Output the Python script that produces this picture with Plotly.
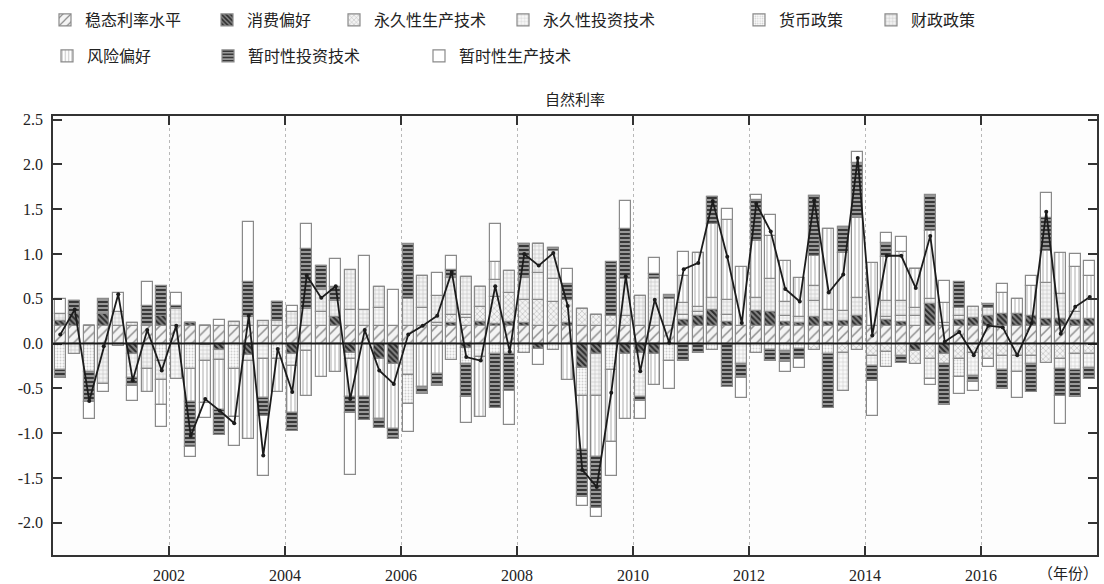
import plotly.graph_objects as go

years = list(range(2000, 2018))
quarters = [f"{y}Q{q}" for y in years for q in range(1, 5)]
x_pos = [y + (q - 0.5) / 4 for y in years for q in range(1, 5)]

tick_years = [2002, 2004, 2006, 2008, 2010, 2012, 2014, 2016]
y_ticks = [-2.0, -1.5, -1.0, -0.5, 0.0, 0.5, 1.0, 1.5, 2.0, 2.5]

steady = [0.2, 0.2, 0.2, 0.2, 0.2, 0.2, 0.2, 0.2,
          0.2, 0.2, 0.2, 0.2, 0.2, 0.2, 0.2, 0.2,
          0.2, 0.2, 0.2, 0.2, 0.2, 0.2, 0.2, 0.2,
          0.2, 0.2, 0.2, 0.2, 0.2, 0.2, 0.2, 0.2,
          0.2, 0.2, 0.2, 0.2, 0.2, 0.2, 0.2, 0.2,
          0.2, 0.2, 0.2, 0.2, 0.2, 0.2, 0.2, 0.2,
          0.2, 0.2, 0.2, 0.2, 0.2, 0.2, 0.2, 0.2,
          0.2, 0.2, 0.2, 0.2, 0.2, 0.2, 0.2, 0.2,
          0.2, 0.2, 0.2, 0.2, 0.2, 0.2, 0.2, 0.2]

consumption = [0.05, 0.13, 0, 0.13, 0, -0.12, 0, 0.11, 0, 0.03, -0.02, -0.07, 0, -0.13, 0,
               0, -0.12, 0, 0, 0.1, -0.1, 0, -0.17, -0.23, 0, 0, 0, 0.03, -0.05,
               0.04, 0.02, 0.04, 0.03, -0.06, 0, 0.03, -0.27, -0.12, 0, -0.12, -0.1, -0.12, 0,
               0.06, 0.11, 0.18, 0.04, 0, 0.16, 0.15, 0.04, 0.03, 0.1, 0.04, 0.05, 0.11, 0, 0.06,
               0.04, -0.08, 0.24, -0.12, 0.06, 0.09, 0.11, 0.13, 0.13, 0.11, 0.07, 0.07, 0.06, 0.07]

perm_prod = [0, 0, 0, 0, 0, 0, 0, 0, 0, 0, 0, 0, 0, 0, 0,
             0, 0, 0, 0, 0, 0, 0, 0, 0, 0, 0, 0.03, 0.09, 0.08,
             0.17, 0.3, 0.33, 0.26, 0.29, 0.26, 0.26, 0.19, 0.12, 0.11, 0.11, 0, 0, 0,
             0, 0, 0, 0, 0, 0, 0, 0, 0, -0.07, 0, -0.1, -0.07, -0.14, -0.09,
             -0.14, -0.15, -0.17, -0.11, -0.17, -0.1, -0.17, -0.14, -0.14, -0.14, -0.22, -0.17, -0.12, -0.12]

perm_inv = [0, 0, 0, 0, 0, -0.26, 0, 0, -0.39, 0, 0, 0, 0, -0.06, -0.17,
            0, -0.13, -0.08, 0.15, 0, 0.17, 0, 0.2, 0, -0.35, 0.2, 0, 0, 0.04,
            -0.15, 0, 0, 0, 0.3, 0.26, 0, 0, 0, 0, 0, -0.5, 0, 0,
            0.06, 0.04, 0, 0.08, -0.23, 0, 0, 0.07, 0, 0.17, 0, -0.43, 0, -0.11, 0.04,
            0.07, 0.11, -0.22, 0, 0.05, -0.26, 0, -0.15, -0.18, -0.09, 0, -0.11, -0.17, -0.15]

monetary = [-0.3, 0, -0.32, 0, -0.03, 0, 0, -0.2, 0, -0.28, 0, 0, -0.28, 0, 0,
            -0.17, 0, 0, 0, 0, -0.07, 0, 0, 0, -0.32, 0, 0, -0.18, -0.18,
            0, -0.12, -0.12, -0.11, 0, -0.07, 0, -0.31, 0, -0.3, 0, 0, 0, -0.19,
            0, 0, -0.07, 0, 0, -0.1, -0.07, -0.08, -0.06, 0, -0.12, 0, 0, 0, -0.17,
            0, 0, 0, 0, -0.2, 0, 0, 0, 0, 0, 0, 0, 0, 0]

fiscal = [0.08, -0.12, 0, -0.45, 0.15, 0.03, -0.28, -0.21, 0.19, 0, -0.18, -0.11, 0.04, 0.1, 0.05,
          0.05, 0.15, 0.19, 0.25, 0.17, 0.45, 0.18, 0.23, 0, 0.3, 0.35, 0.3, 0.41, 0.42,
          0.22, 0.19, 0.24, 0.24, 0.32, 0.31, 0, 0, -0.46, 0, 0.41, 0.33, 0.52, 0.3,
          0.13, 0.06, 0.13, 0.17, 0, 0.15, 0.37, 0.15, 0.07, 0.17, 0.13, 0.11, 0.2, 0, 0.17,
          0.17, 0.09, 0.06, 0.03, 0.09, 0.12, 0.09, 0, 0, 0, 0.41, 0.28, 0.09, 0]

risk = [0, 0, 0, 0, 0, 0, -0.26, -0.28, 0, -0.37, -0.46, -0.56, -0.54, -0.87, -0.44,
        -0.37, -0.52, -0.51, -0.37, -0.32, -0.43, -0.6, -0.67, -0.72, 0, -0.49, -0.34, 0, 0,
        -0.67, 0.2, 0, 0, 0, 0, -0.41, -0.61, -0.69, -0.8, -0.72, 0, -0.34, 0,
        0.3, 0.6, 0.83, 0.89, 0.65, 0.63, 0.48, 0.46, 0.43, 0.34, 0.91, 0.65, 0.89, 0.7, 0.5,
        0.54, 0.43, 0.76, 0.22, 0, 0, 0, 0.24, 0.17, 0.33, 0.35, 0.46, 0.51, 0.48]

temp_inv = [-0.08, 0.15, -0.33, 0.17, 0, -0.09, 0.22, 0.33, 0.03, -0.5, 0, -0.28, 0, 0.39, -0.2,
            0.21, -0.21, 0.67, 0.27, 0.16, -0.17, -0.25, -0.1, -0.11, 0.61, -0.07, -0.13, 0.09, -0.37,
            0, -0.6, -0.41, 0.38, 0, 0.04, 0.17, -0.52, -0.57, 0.6, 0.56, -0.04, 0.06, 0.04,
            -0.2, -0.11, 0.3, -0.48, -0.15, 0.46, -0.12, -0.13, -0.11, 0.67, -0.6, 0.29, 0.61, -0.17, 0.15,
            -0.08, 0, 0.4, -0.46, 0.29, -0.07, 0.04, -0.22, 0, -0.31, 0.37, -0.3, -0.31, -0.13]

temp_prod = [0.17, 0, -0.19, -0.09, 0.22, -0.17, 0.27, -0.24, 0.15, -0.12, -0.17, 0.06, -0.32, 0.67, -0.67,
             0, 0.07, 0.27, 0, 0.31, -0.7, 0.6, 0, 0.4, -0.32, 0, 0.26, 0.16, -0.29,
             0, 0.43, -0.38, 0, -0.18, 0, 0.17, -0.1, -0.1, -0.38, 0.31, -0.2, 0.17, -0.32,
             0.27, 0, 0, 0.12, -0.23, 0.06, 0.24, -0.11, -0.1, 0, 0, 0, 0.13, -0.39, 0.11,
             0.17, 0, -0.07, 0.25, -0.19, -0.1, -0.09, 0.09, -0.29, 0.11, 0.28, -0.32, 0.14, 0.17]

natural_rate = [0.10, 0.38, -0.64, -0.03, 0.55, -0.41, 0.15, -0.30, 0.20, -1.03, -0.62, -0.75, -0.89, 0.31, -1.25,
                -0.06, -0.54, 0.76, 0.51, 0.64, -0.62, 0.15, -0.30, -0.45, 0.10, 0.20, 0.31, 0.80, -0.15,
                -0.19, 0.64, -0.09, 1.00, 0.87, 1.01, 0.42, -1.41, -1.60, -0.55, 0.75, -0.31, 0.49, 0.01,
                0.83, 0.90, 1.59, 0.97, 0.23, 1.56, 1.25, 0.61, 0.47, 1.60, 0.57, 0.77, 2.07, 0.09, 0.98,
                0.98, 0.62, 1.20, 0.02, 0.13, -0.13, 0.20, 0.18, -0.13, 0.23, 1.47, 0.11, 0.41, 0.52]

names = ["稳态利率水平", "消费偏好", "永久性生产技术", "永久性投资技术", "货币政策",
         "财政政策", "风险偏好", "暂时性投资技术", "暂时性生产技术"]
series = [steady, consumption, perm_prod, perm_inv, monetary, fiscal, risk, temp_inv, temp_prod]

# (shape, bgcolor, fgcolor, size, solidity)
styles = [
    ("/", "#f4f4f4", "#8e8e8e", 7, 0.22),
    ("\\", "#858585", "#2c2c2c", 4, 0.5),
    ("x", "#f3f3f3", "#a6a6a6", 4, 0.22),
    ("+", "#f8f8f8", "#c4c4c4", 4, 0.2),
    (".", "#fbfbfb", "#cfcfcf", 3, 0.3),
    ("+", "#f3f3f3", "#bdbdbd", 4, 0.25),
    ("|", "#ffffff", "#adadad", 4, 0.25),
    ("-", "#a3a3a3", "#383838", 4, 0.55),
    ("", "#ffffff", "#ffffff", 4, 0.3),
]

# legend text start (px) and row centre (px)
legend_pos = [(90, 20), (252, 20), (379, 20), (548, 20), (784, 20), (916, 20),
              (92, 56), (253, 56), (464, 56)]

L, R, T, B = 53, 7, 116, 29
W, H = 1104, 584
pw, ph = W - L - R, H - T - B

font_fam = "Liberation Serif, Noto Sans CJK SC, serif"

fig = go.Figure()
layout_legends = {}
for k, (nm, vals, st) in enumerate(zip(names, series, styles)):
    shape, bg, fg, sz, sol = st
    lg = "legend" if k == 0 else f"legend{k + 1}"
    fig.add_trace(go.Bar(
        x=x_pos, y=vals, name=nm, legend=lg, width=0.196,
        marker=dict(color=bg,
                    line=dict(color="#8a8a8a", width=1.2),
                    pattern=dict(shape=shape, bgcolor=bg, fgcolor=fg, size=sz,
                                 solidity=sol, fillmode="replace")),
        hovertext=quarters,
    ))
    tx, ty = legend_pos[k]
    layout_legends[lg] = dict(
        x=(tx - 45 - L) / pw, xanchor="left",
        y=1 + (T - ty) / ph, yanchor="middle",
        orientation="h", bgcolor="rgba(0,0,0,0)", borderwidth=0,
        font=dict(family=font_fam, size=16, color="#222"),
        itemclick=False,
    )

fig.add_trace(go.Scatter(
    x=x_pos, y=natural_rate, mode="lines+markers", name="自然利率",
    showlegend=False,
    line=dict(color="#1c1c1c", width=1.8),
    marker=dict(size=4, color="#1c1c1c"),
))

fig.update_layout(
    width=W, height=H,
    margin=dict(l=L, r=R, t=T, b=B, autoexpand=False),
    barmode="relative",
    bargap=0,
    paper_bgcolor="white",
    plot_bgcolor="#fdfdfd",
    font=dict(family=font_fam, size=15, color="#222"),
    title=dict(text="自然利率", x=575 / W, xanchor="center",
               y=1 - 100 / H, yanchor="middle", font=dict(size=15, family=font_fam)),
    showlegend=True,
    **layout_legends,
)

fig.update_xaxes(
    range=[2000, 2018], tickmode="array", tickvals=tick_years,
    ticktext=[str(v) for v in tick_years],
    ticks="inside", ticklen=9, tickwidth=1.5, tickcolor="#333",
    showline=True, linecolor="#333", linewidth=1.5, mirror="ticks",
    showgrid=True, gridcolor="#b8b8b8", griddash="dot", gridwidth=1,
    zeroline=False, ticklabelstandoff=5, automargin=False,
    tickfont=dict(family=font_fam, size=16),
)
fig.update_yaxes(
    range=[-2.36, 2.54], tickmode="array", tickvals=y_ticks,
    ticktext=[f"{v:.1f}" for v in y_ticks],
    ticks="inside", ticklen=9, tickwidth=1.5, tickcolor="#333",
    showline=True, linecolor="#333", linewidth=1.5, mirror="ticks",
    showgrid=False, zeroline=False, ticklabelstandoff=5, automargin=False,
    tickfont=dict(family=font_fam, size=16),
)

fig.add_hline(y=0, line=dict(color="#1a1a1a", width=2), layer="above")

fig.add_annotation(text="（年份）", xref="paper", yref="paper", x=1.003, y=-(574 - (H - B)) / ph,
                   xanchor="right", yanchor="middle", showarrow=False,
                   font=dict(family=font_fam, size=15, color="#222"))

fig.write_html("out.html", config={"displayModeBar": False},
               post_script="document.body.style.margin='0';document.body.style.overflow='hidden';")
